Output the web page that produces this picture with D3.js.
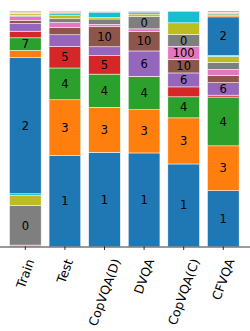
<!DOCTYPE html>
<html>
<head>
<meta charset="utf-8">
<script src="https://cdn.jsdelivr.net/npm/d3@7"></script>
<style>
  body { margin: 0; background: #fff; }
  svg text { font-family: "DejaVu Sans", sans-serif; }
</style>
</head>
<body>
<svg></svg>
<script>
// bars
const datasets = ['Train', 'Test', 'CopVQA(D)', 'DVQA', 'CopVQA(C)', 'CFVQA'];
// answers in stacking order (colours cycle through tab10)
const answers = ['1', '3', '4', '5', '6', '10', '100', '0', '8', '20', '2', '12', '7',
                 '9', '11', '15', '30', '50', '13', '14', '16', '18', '25'];

// answer share per dataset, in %
const trainShare = [0, 0, 0, 0, 0, 0, 0.6, 16.6, 4.2, 0.8, 57.3, 3.1, 5.3, 2.8, 3.2, 1.3, 1.6, 0.6, 0.6, 0.3, 0.3, 0.3, 0.3];
const testShare  = [38.6, 23.7, 13.5, 9.2, 4.9, 3.1, 2.1, 1.6, 1.3, 0.8, 0.4, 0.4, 0.2, 0.2];
const copDShare  = [40.0, 19.1, 14.1, 7.8, 3.8, 8.5, 1.0, 2.3, 0.6, 2.1, 0.3, 0.3, 0.1];
const dvqaShare  = [39.8, 18.4, 14.1, 0.1, 10.8, 8.3, 1.1, 5.2, 1.1, 0.6, 0.5, 0.2];
const copCShare  = [34.9, 19.5, 8.9, 4.2, 5.9, 5.7, 5.5, 5.1, 4.9, 4.8, 0.2];
const cfvqaShare = [23.7, 19.0, 20.7, 0.8, 5.3, 3.1, 2.5, 3.0, 2.5, 0.4, 16.4, 0.6, 0.6, 0.3, 0.2, 0.2, 0.6];

const shares = [trainShare, testShare, copDShare, dvqaShare, copCShare, cfvqaShare];

document.addEventListener('DOMContentLoaded', () => {
    var width = 250;
    var height = 331;
    var baseY = 246.5;
    var labelSize = 11.5;
    var tickSize = 12.5;

    var svg = d3.select('svg')
        .attr('width', width)
        .attr('height', height);

    // table for d3.stack
    var rows = datasets.map((name, i) => {
        var row = { name: name };
        answers.forEach((a, j) => row[a] = shares[i][j] || 0);
        return row;
    });

    var series = d3.stack()
        .keys(answers)
        .offset(d3.stackOffsetExpand)(rows);

    // scales
    var xScale = d3.scaleBand()
        .domain(datasets)
        .range([-2, 250.6])
        .paddingInner(0.2)
        .paddingOuter(0.29);

    var yScale = d3.scaleLinear()
        .domain([0, 1])
        .range([baseY, 11]);

    var colorScale = d3.scaleOrdinal()
        .domain(answers)
        .range(d3.schemeCategory10);

    // stacked bars
    var layer = svg.selectAll('g.layer')
        .data(series)
        .enter()
        .append('g')
            .attr('class', 'layer')
            .attr('fill', d => colorScale(d.key));

    layer.selectAll('rect')
        .data(d => d.filter(p => p[1] - p[0] > 0))
        .enter()
        .append('rect')
            .attr('x', d => xScale(d.data.name))
            .attr('width', xScale.bandwidth())
            .attr('y', d => yScale(d[1]))
            .attr('height', d => yScale(d[0]) - yScale(d[1]))
            .attr('stroke', '#fff')
            .attr('stroke-width', 0.5);

    // labels on segments of 5% or more
    layer.each(function(s) {
        d3.select(this).selectAll('text')
            .data(s.filter(p => p[1] - p[0] >= 0.05))
            .enter()
            .append('text')
                .text(s.key)
                .attr('x', d => xScale(d.data.name) + xScale.bandwidth() / 2)
                .attr('y', d => yScale((d[0] + d[1]) / 2))
                .attr('dy', '0.36em')
                .attr('text-anchor', 'middle')
                .attr('font-size', labelSize)
                .attr('fill', '#000');
    });

    // x axis
    var xAxis = d3.axisBottom(xScale)
        .tickSize(3.5)
        .tickSizeOuter(0);

    var axisG = svg.append('g')
        .attr('transform', 'translate(0,' + baseY + ')')
        .call(xAxis);

    axisG.select('.domain')
        .attr('stroke', '#000')
        .attr('stroke-width', 0.8);
    axisG.selectAll('.tick line')
        .attr('stroke', '#000')
        .attr('stroke-width', 0.8);

    // rotated tick labels, box centred under the tick
    var angle = 70 * Math.PI / 180;
    var labelTop = 10;
    axisG.selectAll('.tick text')
        .attr('font-family', 'DejaVu Sans, sans-serif')
        .attr('font-size', tickSize)
        .attr('fill', '#000')
        .attr('text-anchor', 'middle')
        .attr('y', 0)
        .attr('dy', '0.35em')
        .each(function() {
            var b = this.getBBox();
            var half = b.width / 2 * Math.sin(angle) + b.height / 2 * Math.cos(angle);
            d3.select(this).attr('transform', 'translate(0,' + (labelTop + half) + ') rotate(-70)');
        });
});
</script>
</body>
</html>
